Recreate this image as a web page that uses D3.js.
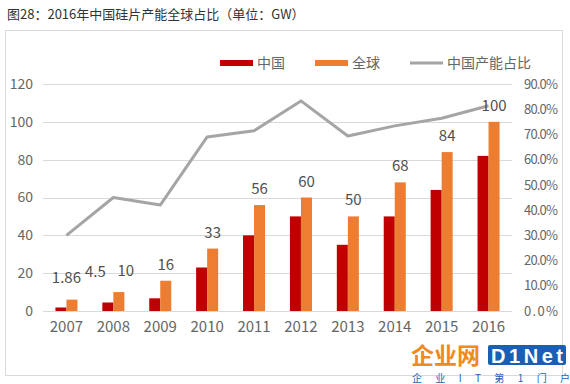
<!DOCTYPE html>
<html>
<head>
<meta charset="utf-8">
<script src="https://cdn.jsdelivr.net/npm/d3@7"></script>
<style>
body { margin: 0; background: #fff; }
text { font-family: "Noto Sans CJK SC", "Liberation Sans", sans-serif; }
</style>
</head>
<body>
<div id="chart"></div>
<script>
// data
const years = ["2007", "2008", "2009", "2010", "2011", "2012", "2013", "2014", "2015", "2016"];
const china = [1.86, 4.5, 6.7, 23, 40, 50, 35, 50, 64, 82];
const world = [6, 10, 16, 33, 56, 60, 50, 68, 84, 100];
const share = [0.30, 0.45, 0.42, 0.69, 0.715, 0.833, 0.694, 0.734, 0.764, 0.814];
const chinaLabels = ["1.86", "4.5", "", "", "", "", "", "", "", ""];
const worldLabels = ["", "10", "16", "33", "56", "60", "50", "68", "84", "100"];
const leftTicks = [0, 20, 40, 60, 80, 100, 120];
const rightTicks = [0, 0.1, 0.2, 0.3, 0.4, 0.5, 0.6, 0.7, 0.8, 0.9];

const W = 570, H = 384;
const margin = {top: 84, right: 58, bottom: 73, left: 43},
    width = W - margin.left - margin.right,
    height = H - margin.top - margin.bottom;

const colChina = "#c00000", colWorld = "#ed7d31", colLine = "#a5a5a5";

let svg = d3.select("#chart").append("svg")
    .attr("width", W)
    .attr("height", H);

// title + outer frame
svg.append("text")
    .attr("x", 7)
    .attr("y", 19)
    .style("font-size", "13px")
    .style("fill", "#333")
    .text("图28：2016年中国硅片产能全球占比（单位：GW）");

svg.append("rect")
    .attr("x", 5.5).attr("y", 30.5)
    .attr("width", 557).attr("height", 345)
    .style("fill", "none")
    .style("stroke", "#d9d9d9");

let g = svg.append("g")
    .attr("transform", "translate(" + margin.left + "," + margin.top + ")");

let x = d3.scaleBand().domain(years).range([0, width]).paddingInner(0.53).paddingOuter(0.265);
let xc = d3.scaleBand().domain(years).range([0, width]);
let y = d3.scaleLinear().domain([0, 120]).range([height, 0]);
let y2 = d3.scaleLinear().domain([0, 0.9]).range([height, 0]);

// gridlines
g.selectAll(".grid")
    .data(leftTicks)
    .enter().append("line")
    .attr("x1", 0).attr("x2", width)
    .attr("y1", d => Math.round(y(d)) + 0.5)
    .attr("y2", d => Math.round(y(d)) + 0.5)
    .style("stroke", "#d9d9d9")
    .style("stroke-width", 1);

// left axis
let yAxis = g.append("g")
    .call(d3.axisLeft(y).tickValues(leftTicks).tickSize(0).tickPadding(10));
yAxis.select(".domain").remove();
yAxis.selectAll("text").style("font-size", "14px").style("fill", "#666").style("font-family", "'Noto Sans CJK SC', sans-serif");

// right axis
let y2Axis = g.append("g")
    .attr("transform", "translate(" + width + ",0)")
    .call(d3.axisRight(y2).tickValues(rightTicks).tickFormat(d3.format(".1%")).tickSize(0).tickPadding(12));
y2Axis.select(".domain").remove();
y2Axis.selectAll("text").style("font-size", "13px").style("fill", "#666").style("font-family", "'Noto Sans CJK SC', sans-serif").attr("textLength", 34);

// x axis
let xAxis = g.append("g")
    .attr("transform", "translate(0," + height + ")")
    .call(d3.axisBottom(xc).tickSize(0).tickPadding(10));
xAxis.select(".domain").remove();
xAxis.selectAll("text").style("font-size", "15px").style("fill", "#666").style("font-family", "'Noto Sans CJK SC', sans-serif");

let bw = x.bandwidth() / 2;

// bars
g.selectAll(".china")
    .data(china)
    .enter().append("rect")
    .attr("x", (d, i) => x(years[i]))
    .attr("y", d => y(d))
    .attr("width", bw)
    .attr("height", d => height - y(d))
    .style("fill", colChina);

g.selectAll(".world")
    .data(world)
    .enter().append("rect")
    .attr("x", (d, i) => x(years[i]) + bw)
    .attr("y", d => y(d))
    .attr("width", bw)
    .attr("height", d => height - y(d))
    .style("fill", colWorld);

// share line
let line = d3.line()
    .x((d, i) => xc(years[i]) + xc.bandwidth() / 2)
    .y(d => y2(d));

g.append("path")
    .datum(share)
    .attr("d", line)
    .style("fill", "none")
    .style("stroke", colLine)
    .style("stroke-width", 3)
    .style("stroke-linejoin", "round");

// data labels
g.selectAll(".wlab")
    .data(world)
    .enter().append("text")
    .attr("x", (d, i) => x(years[i]) + bw * 1.5 + (i == 1 ? 7 : 0))
    .attr("y", (d, i) => y(d) - 11 - (i == 1 ? 5 : 0))
    .attr("text-anchor", "middle")
    .style("font-size", "15px")
    .style("fill", "#505050")
    .text((d, i) => worldLabels[i]);

g.selectAll(".clab")
    .data(china)
    .enter().append("text")
    .attr("x", (d, i) => i == 0 ? xc(years[i]) + xc.bandwidth() / 2 : x(years[i]) - 7)
    .attr("y", (d, i) => y(world[i]) - 17 - (i == 0 ? 0 : -2))
    .attr("text-anchor", "middle")
    .style("font-size", "15px")
    .style("fill", "#505050")
    .text((d, i) => chinaLabels[i]);

// legend
const legend = [
    {name: "中国", color: colChina, w: 6, x: 220},
    {name: "全球", color: colWorld, w: 6, x: 315},
    {name: "中国产能占比", color: colLine, w: 3, x: 410}
];
let lg = svg.selectAll(".legend")
    .data(legend)
    .enter().append("g")
    .attr("transform", d => "translate(" + d.x + ",63)");
lg.append("line")
    .attr("x1", 0).attr("x2", 33)
    .style("stroke", d => d.color)
    .style("stroke-width", d => d.w);
lg.append("text")
    .attr("x", 37)
    .attr("y", 5)
    .style("font-size", "14px")
    .style("fill", "#666")
    .text(d => d.name);

// watermark
svg.append("text")
    .attr("x", 411).attr("y", 364)
    .style("font-size", "23px")
    .style("font-weight", "bold")
    .style("fill", "#f08a1c")
    .text("企业网");
svg.append("rect")
    .attr("x", 488).attr("y", 345)
    .attr("width", 78).attr("height", 20)
    .attr("rx", 2)
    .style("fill", "#1a5fb4");
svg.append("text")
    .attr("x", 491).attr("y", 363)
    .style("font-size", "20px")
    .style("font-weight", "bold")
    .style("font-family", "'Liberation Sans', sans-serif")
    .style("fill", "#fff")
    .attr("textLength", 72)
    .text("D1Net");
svg.append("text")
    .attr("x", 412).attr("y", 382)
    .style("font-size", "10px")
    .style("fill", "#1a5fb4")
    .attr("textLength", 158)
    .text("企业IT第1门户");
</script>
</body>
</html>
